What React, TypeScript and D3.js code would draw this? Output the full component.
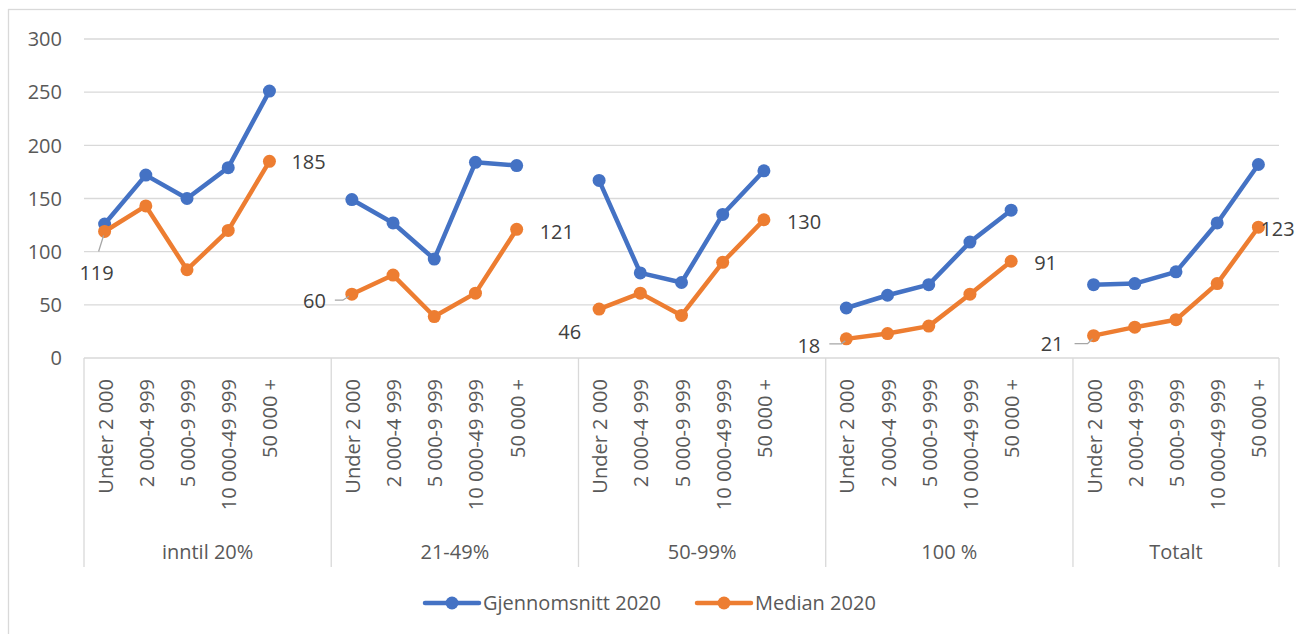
import React from "react";
import * as d3 from "d3";

// Chart data
const groups = ["inntil 20%", "21-49%", "50-99%", "100 %", "Totalt"];
const categories = ["Under 2 000", "2 000-4 999", "5 000-9 999", "10 000-49 999", "50 000 +"];
const gjennomsnitt2020 = [
  126, 172, 150, 179, 251,
  149, 127, 93, 184, 181,
  167, 80, 71, 135, 176,
  47, 59, 69, 109, 139,
  69, 70, 81, 127, 182,
];
const median2020 = [
  119, 143, 83, 120, 185,
  60, 78, 39, 61, 121,
  46, 61, 40, 90, 130,
  18, 23, 30, 60, 91,
  21, 29, 36, 70, 123,
];
const yTicks = [0, 50, 100, 150, 200, 250, 300];
const seriesNames = ["Gjennomsnitt 2020", "Median 2020"];

// Layout
const W = 1296;
const H = 634;
const plotLeft = 84;
const plotRight = 1279;
const plotTop = 39;
const plotBottom = 358;
const axisBottom = 567;
const FONT = "'Open Sans', sans-serif";
const TEXT = "#595959";
const BLUE = "#4472C4";
const ORANGE = "#ED7D31";
const GRID = "#D9D9D9";

// Placement of median data labels (first and last point of every group)
type LabelPlace = { idx: number; anchor: "start" | "middle" | "end"; dx: number; dy: number; leader?: [number, number][] };
const labelPlaces: LabelPlace[] = [
  { idx: 0, anchor: "middle", dx: -8, dy: 41, leader: [[-6, 20], [-1, 4]] },
  { idx: 4, anchor: "start", dx: 22, dy: 1 },
  { idx: 5, anchor: "end", dx: -26, dy: 7, leader: [[-17, 6], [-9, 6], [-3, 2]] },
  { idx: 9, anchor: "start", dx: 23, dy: 2 },
  { idx: 10, anchor: "end", dx: -18, dy: 23 },
  { idx: 14, anchor: "start", dx: 23, dy: 2 },
  { idx: 15, anchor: "end", dx: -26, dy: 7, leader: [[-17, 5], [-5, 5], [-1, 2]] },
  { idx: 19, anchor: "start", dx: 23, dy: 2 },
  { idx: 20, anchor: "end", dx: -30, dy: 8, leader: [[-19, 8], [-6, 8], [-1, 3]] },
  { idx: 24, anchor: "start", dx: 2, dy: 2 },
];

// Each group occupies its categories plus one empty spacer slot (none after the last group)
const slotsPerGroup = categories.length + 1;
const slotCount = groups.length * slotsPerGroup - 1;
const slotOf = (i: number) => Math.floor(i / categories.length) * slotsPerGroup + (i % categories.length);

export default function App() {
  const x = d3.scaleBand<number>().domain(d3.range(slotCount)).range([plotLeft, plotRight]).padding(0);
  const y = d3.scaleLinear().domain([0, 300]).range([plotBottom, plotTop]);
  const cx = (i: number) => (x(slotOf(i)) as number) + x.bandwidth() / 2;

  const groupSegments = (vals: number[]) =>
    groups.map((_, g) => {
      const idxs = d3.range(g * categories.length, (g + 1) * categories.length);
      return d3
        .line<number>()
        .x((i) => cx(i))
        .y((i) => y(vals[i]))(idxs) as string;
    });

  const groupEdges = groups.map((_, g) => x(g * slotsPerGroup) as number);
  groupEdges.push(plotRight);

  const series = [
    { name: seriesNames[0], vals: gjennomsnitt2020, color: BLUE },
    { name: seriesNames[1], vals: median2020, color: ORANGE },
  ];

  return (
    <svg
      width={W}
      height={H}
      style={{ position: "absolute", left: 0, top: 0, background: "#fff" }}
      fontFamily={FONT}
    >
      <rect x={8.5} y={9.5} width={W + 20} height={H + 20} fill="#fff" stroke={GRID} strokeWidth={1.3} />

      {/* gridlines and value axis */}
      {yTicks.map((t) => (
        <g key={t}>
          <line x1={plotLeft} x2={plotRight} y1={y(t)} y2={y(t)} stroke={GRID} strokeWidth={1.3} />
          <text x={62} y={y(t)} dy="0.36em" textAnchor="end" fontSize={20} fill={TEXT}>
            {t}
          </text>
        </g>
      ))}

      {/* category axis: group dividers */}
      {groupEdges.map((ex, i) => (
        <line key={i} x1={ex} x2={ex} y1={plotBottom} y2={axisBottom} stroke={GRID} strokeWidth={1.3} />
      ))}

      {/* category tick labels */}
      {median2020.map((_, i) => (
        <text
          key={i}
          transform={`translate(${cx(i) + 1},379) rotate(-90)`}
          dy="0.35em"
          textAnchor="end"
          fontSize={20}
          fill={TEXT}
        >
          {categories[i % categories.length]}
        </text>
      ))}

      {/* group labels */}
      {groups.map((g, i) => (
        <text
          key={g}
          x={(groupEdges[i] + groupEdges[i + 1]) / 2}
          y={552}
          dy="0.36em"
          textAnchor="middle"
          fontSize={20}
          fill={TEXT}
        >
          {g}
        </text>
      ))}

      {/* series lines and markers */}
      {series.map((s) => (
        <g key={s.name}>
          {groupSegments(s.vals).map((d, g) => (
            <path key={g} d={d} fill="none" stroke={s.color} strokeWidth={4.5} strokeLinejoin="round" strokeLinecap="round" />
          ))}
          {s.vals.map((v, i) => (
            <circle key={i} cx={cx(i)} cy={y(v)} r={6.5} fill={s.color} />
          ))}
        </g>
      ))}

      {/* median data labels */}
      {labelPlaces.map((p) => {
        const px = cx(p.idx);
        const py = y(median2020[p.idx]);
        return (
          <g key={p.idx}>
            {p.leader && (
              <polyline
                points={p.leader.map(([lx, ly]) => `${px + lx},${py + ly}`).join(" ")}
                fill="none"
                stroke="#A6A6A6"
                strokeWidth={1.3}
              />
            )}
            <text x={px + p.dx} y={py + p.dy} dy="0.36em" textAnchor={p.anchor} fontSize={20} fill="#404040">
              {median2020[p.idx]}
            </text>
          </g>
        );
      })}

      {/* legend */}
      {series.map((s, i) => {
        const lx = i === 0 ? 425 : 697;
        return (
          <g key={s.name}>
            <line x1={lx} x2={lx + 54} y1={603} y2={603} stroke={s.color} strokeWidth={4.5} strokeLinecap="round" />
            <circle cx={lx + 27} cy={603} r={6.5} fill={s.color} />
            <text x={lx + 58} y={603} dy="0.36em" fontSize={20} fill={TEXT}>
              {s.name}
            </text>
          </g>
        );
      })}
    </svg>
  );
}
